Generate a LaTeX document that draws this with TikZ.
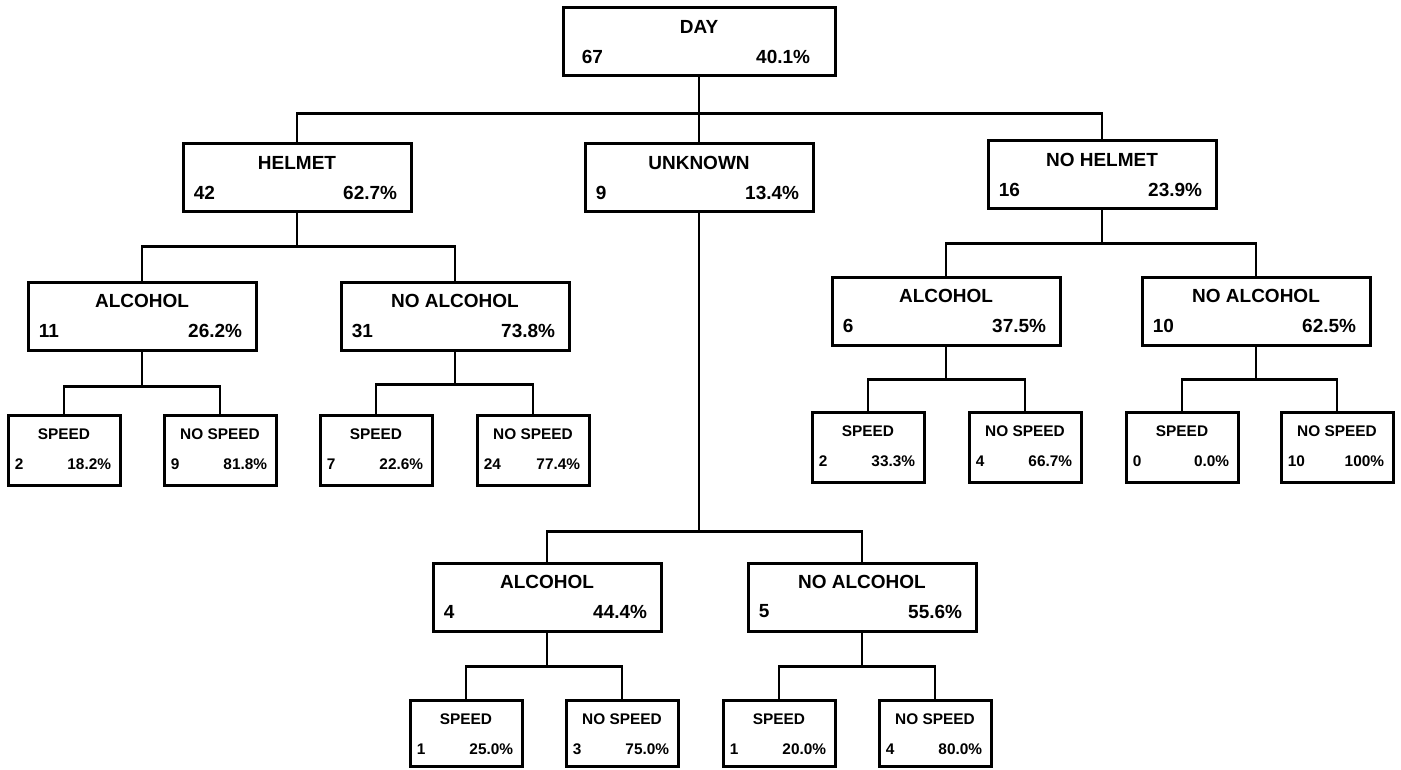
\documentclass[tikz,border=0pt]{standalone}
\usepackage{fontspec}
\setmainfont{Liberation Sans}
\usetikzlibrary{calc}

\tikzset{
  bx/.style={draw, line width=1.5pt, minimum width=114pt, minimum height=34pt, inner sep=0pt},
  sx/.style={draw, line width=1.5pt, minimum width=56pt, minimum height=35pt, inner sep=0pt},
  bt/.style={font=\fontsize{9.5}{10}\selectfont\bfseries, inner sep=0pt},
  st/.style={font=\fontsize{7.7}{8}\selectfont\bfseries, inner sep=0pt},
  link/.style={line width=1.25pt}
}

% name, centre, title, count, share
\newcommand{\bigbox}[6][]{%
  \node[bx, #1] (#2) at (#3) {};
  \node[bt] (#2-t) at ($(#2.north)+(0,20)$) {#4};
  \node[bt, anchor=west] (#2-n) at ($(#2.north west)+(12,50)$) {#5};
  \node[bt, anchor=east] (#2-p) at ($(#2.north east)+(-15,50)$) {#6};
}
\newcommand{\smallbox}[6][]{%
  \node[sx, #1] (#2) at (#3) {};
  \node[st] (#2-t) at ($(#2.north)+(0,21)$) {#4};
  \node[st, anchor=west] (#2-n) at ($(#2.north west)+(8,51)$) {#5};
  \node[st, anchor=east] (#2-p) at ($(#2.north east)+(-10,51)$) {#6};
}

\begin{document}
\begin{tikzpicture}[x=0.5pt, y=-0.5pt]
\useasboundingbox (0,0) rectangle (1401,770);

\node[bx, minimum width=136pt] (day) at (699,42) {};
\node[bt] (day-t) at ($(day.north)+(0,20)$) {DAY};
\node[bt, anchor=west] (day-n) at ($(day.north west)+(20,50)$) {67};
\node[bt, anchor=east] (day-p) at ($(day.north east)+(-26,50)$) {40.1\%};

\bigbox{helm}{297,178}{HELMET}{42}{62.7\%}
\bigbox{unk}{699,178}{UNKNOWN}{9}{13.4\%}
\bigbox{nohelm}{1102,175}{NO HELMET}{16}{23.9\%}

\bigbox{ha}{142,316}{ALCOHOL}{11}{26.2\%}
\bigbox{hn}{455,316}{NO ALCOHOL}{31}{73.8\%}
\bigbox{na}{946,311}{ALCOHOL}{6}{37.5\%}
\bigbox{nn}{1256,311}{NO ALCOHOL}{10}{62.5\%}
\bigbox{ua}{547,597}{ALCOHOL}{4}{44.4\%}
\bigbox{un}{862,597}{NO ALCOHOL}{5}{55.6\%}

\smallbox{has}{64,450}{SPEED}{2}{18.2\%}
\smallbox{han}{220,450}{NO SPEED}{9}{81.8\%}
\smallbox{hns}{376,450}{SPEED}{7}{22.6\%}
\smallbox{hnn}{533,450}{NO SPEED}{24}{77.4\%}
\smallbox{nas}{868,447}{SPEED}{2}{33.3\%}
\smallbox{nan}{1025,447}{NO SPEED}{4}{66.7\%}
\smallbox{nns}{1182,447}{SPEED}{0}{0.0\%}
\smallbox{nnn}{1337,447}{NO SPEED}{10}{100\%}
\smallbox[minimum height=33pt]{uas}{466,733}{SPEED}{1}{25.0\%}
\smallbox[minimum height=33pt]{uan}{622,733}{NO SPEED}{3}{75.0\%}
\smallbox[minimum height=33pt]{uns}{779,733}{SPEED}{1}{20.0\%}
\smallbox[minimum height=33pt]{unn}{935,733}{NO SPEED}{4}{80.0\%}

\draw[link] (day.south) -- ++(0,36) -| (helm.north);
\draw[link] (day.south) -- (unk.north);
\draw[link] (day.south) -- ++(0,36) -| (nohelm.north);

\draw[link] (helm.south) -- ++(0,33) -| (ha.north);
\draw[link] (helm.south) -- ++(0,33) -| (hn.north);
\draw[link] (nohelm.south) -- ++(0,33) -| (na.north);
\draw[link] (nohelm.south) -- ++(0,33) -| (nn.north);
\draw[link] (unk.south) -- ++(0,318) -| (ua.north);
\draw[link] (unk.south) -- ++(0,318) -| (un.north);

\draw[link] (ha.south) -- ++(0,35) -| (has.north);
\draw[link] (ha.south) -- ++(0,35) -| (han.north);
\draw[link] (hn.south) -- ++(0,33) -| (hns.north);
\draw[link] (hn.south) -- ++(0,33) -| (hnn.north);
\draw[link] (na.south) -- ++(0,33) -| (nas.north);
\draw[link] (na.south) -- ++(0,33) -| (nan.north);
\draw[link] (nn.south) -- ++(0,33) -| (nns.north);
\draw[link] (nn.south) -- ++(0,33) -| (nnn.north);
\draw[link] (ua.south) -- ++(0,34) -| (uas.north);
\draw[link] (ua.south) -- ++(0,34) -| (uan.north);
\draw[link] (un.south) -- ++(0,34) -| (uns.north);
\draw[link] (un.south) -- ++(0,34) -| (unn.north);
\end{tikzpicture}
\end{document}
